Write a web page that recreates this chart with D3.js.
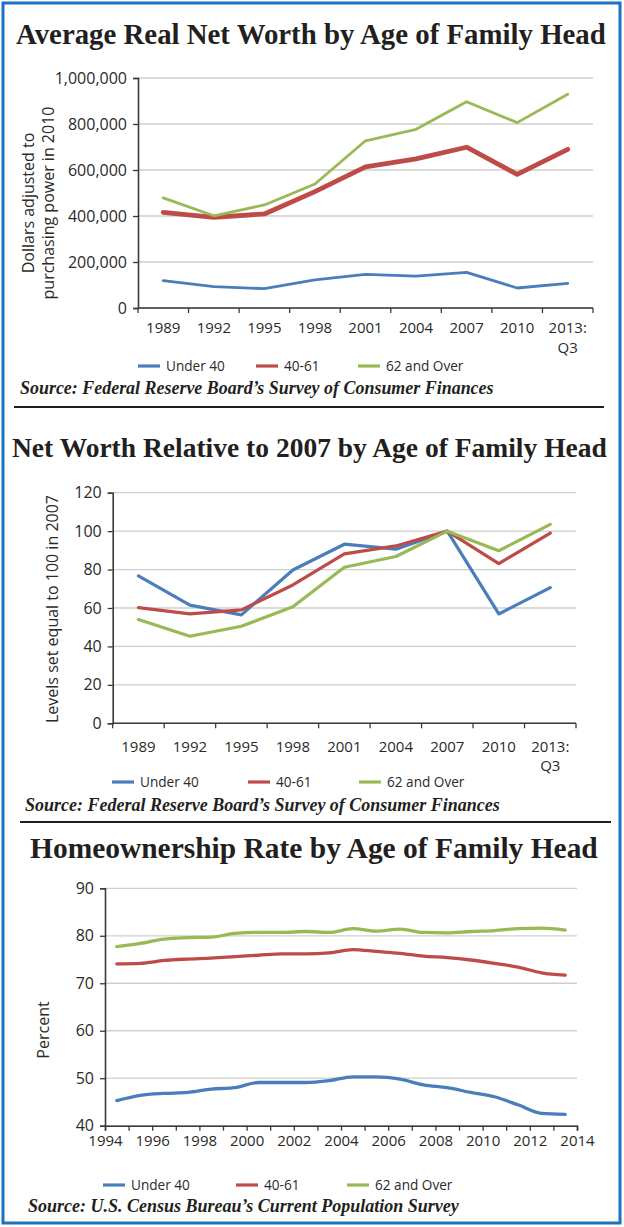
<!DOCTYPE html>
<html><head><meta charset="utf-8">
<script src="https://cdn.jsdelivr.net/npm/d3@7"></script>
<style>
body{margin:0;background:#fff;}
svg{display:block;}
</style></head><body>
<svg id="c" width="624" height="1227"></svg>
<script>
// ---------- DATA ----------
const seriesNames = ["Under 40", "40-61", "62 and Over"];
const seriesColors = ["#4a7ebb", "#be4b48", "#98b954"];

// Chart 1: Average Real Net Worth (2010 dollars)
const nwCategories = ["1989", "1992", "1995", "1998", "2001", "2004", "2007", "2010", "2013:\nQ3"];
const nwUnder40 = [119000, 93000, 84000, 122000, 146000, 139000, 155000, 87000, 107000];
const nw40to61 = [416000, 394000, 409000, 506000, 614000, 648000, 699000, 581000, 690000];
const nw62over = [479000, 401000, 448000, 539000, 727000, 777000, 897000, 806000, 929000];
const nwTicks = [0, 200000, 400000, 600000, 800000, 1000000];

// Chart 2: Net Worth relative to 2007
const relCategories = ["1989", "1992", "1995", "1998", "2001", "2004", "2007", "2010", "2013:\nQ3"];
const relUnder40 = [76.7, 61.5, 56.4, 79.8, 93.2, 90.6, 100, 56.9, 70.6];
const rel40to61 = [60.2, 56.9, 59.0, 72.0, 88.2, 92.3, 100, 83.1, 99.0];
const rel62over = [54.0, 45.3, 50.5, 60.7, 81.2, 86.8, 100, 89.8, 103.5];
const relTicks = [0, 20, 40, 60, 80, 100, 120];

// Chart 3: Homeownership rate (annual, plotted mid-year)
const hoYears = [1994, 1995, 1996, 1997, 1998, 1999, 2000, 2001, 2002, 2003, 2004, 2005, 2006, 2007, 2008, 2009, 2010, 2011, 2012, 2013];
const hoUnder40 = [45.3, 46.4, 46.8, 47.0, 47.7, 48.0, 49.1, 49.1, 49.1, 49.5, 50.3, 50.3, 49.8, 48.6, 48.0, 47.0, 46.1, 44.4, 42.6, 42.4];
const ho40to61 = [74.1, 74.2, 74.8, 75.1, 75.3, 75.6, 75.9, 76.2, 76.2, 76.4, 77.1, 76.7, 76.3, 75.7, 75.4, 74.9, 74.2, 73.4, 72.2, 71.7];
const ho62over = [77.7, 78.4, 79.3, 79.6, 79.7, 80.5, 80.7, 80.7, 80.9, 80.7, 81.5, 81.0, 81.4, 80.7, 80.6, 80.9, 81.1, 81.5, 81.6, 81.2];
const hoTicks = [40, 50, 60, 70, 80, 90];
const hoAxisYears = [1994, 1995, 1996, 1997, 1998, 1999, 2000, 2001, 2002, 2003, 2004, 2005, 2006, 2007, 2008, 2009, 2010, 2011, 2012, 2013, 2014];

// ---------- DRAW ----------
const svg = d3.select("#c");
const SANS = "'Open Sans', 'Noto Sans', sans-serif";
const SERIF = "'Liberation Serif', 'DejaVu Serif', serif";
const TXT = "#2a2a2a";

svg.append("rect").attr("x", 3).attr("y", 3).attr("width", 617).attr("height", 1220)
  .attr("fill", "none").attr("stroke", "#1a72c2").attr("stroke-width", 3);

function fitText(sel, width) {
  const w = sel.node().getComputedTextLength();
  const fs = parseFloat(sel.attr("font-size"));
  sel.attr("font-size", fs * width / w);
}

function title(text, x, w, y) {
  const t = svg.append("text").attr("x", x).attr("y", y).attr("font-family", SERIF)
    .attr("font-weight", "bold").attr("font-size", 26).attr("fill", "#231f20").text(text);
  fitText(t, w);
}
function source(text, x, w, y) {
  const t = svg.append("text").attr("x", x).attr("y", y).attr("font-family", SERIF)
    .attr("font-weight", "bold").attr("font-style", "italic").attr("font-size", 15)
    .attr("fill", "#231f20").text(text);
  fitText(t, w);
}
function legend(xs, y) {
  seriesNames.forEach((n, i) => {
    svg.append("line").attr("x1", xs[i]).attr("x2", xs[i] + 22).attr("y1", y).attr("y2", y)
      .attr("stroke", seriesColors[i]).attr("stroke-width", 3.2);
    svg.append("text").attr("x", xs[i] + 28).attr("y", y).attr("dy", "0.35em")
      .attr("font-family", SANS).attr("font-size", 13.6).attr("fill", TXT).text(n);
  });
}
function yAxis(y, left, right, ticks, fmt, fs) {
  const g = svg.append("g");
  ticks.forEach(t => {
    g.append("line").attr("x1", left).attr("x2", right).attr("y1", y(t)).attr("y2", y(t))
      .attr("stroke", "#cfcfcf").attr("stroke-width", 1.3);
  });
  const ax = svg.append("g").attr("transform", `translate(${left},0)`)
    .call(d3.axisLeft(y).tickValues(ticks).tickSize(5).tickPadding(6).tickFormat(fmt));
  ax.select(".domain").attr("stroke", "#3a3a3a").attr("stroke-width", 1.6);
  ax.selectAll(".tick line").attr("stroke", "#3a3a3a").attr("stroke-width", 1.3);
  ax.selectAll("text").attr("font-family", SANS).attr("font-size", fs).attr("fill", TXT);
}
function bandXAxis(x, yBase, labelOffset, fs) {
  const cats = x.domain();
  const g = svg.append("g");
  g.append("line").attr("x1", x.range()[0]).attr("x2", x.range()[1]).attr("y1", yBase).attr("y2", yBase)
    .attr("stroke", "#3a3a3a").attr("stroke-width", 1.6);
  const bounds = cats.map(c => x(c)).concat([x.range()[1]]);
  bounds.forEach(b => g.append("line").attr("x1", b).attr("x2", b).attr("y1", yBase).attr("y2", yBase + 5)
    .attr("stroke", "#3a3a3a").attr("stroke-width", 1.3));
  cats.forEach(c => {
    const t = g.append("text").attr("x", x(c) + x.bandwidth() / 2).attr("y", yBase + labelOffset)
      .attr("text-anchor", "middle").attr("font-family", SANS).attr("font-size", fs).attr("fill", TXT);
    c.split("\n").forEach((s, i) => t.append("tspan").attr("x", x(c) + x.bandwidth() / 2)
      .attr("dy", i === 0 ? "0.35em" : "1.3em").text(s));
  });
}
function yTitle(lines, cx, cy, fs, gap) {
  lines.forEach((l, i) => {
    svg.append("text").attr("transform", `translate(${cx + i * gap},${cy}) rotate(-90)`)
      .attr("text-anchor", "middle").attr("dy", "0.35em").attr("font-family", SANS)
      .attr("font-size", fs).attr("fill", TXT).text(l);
  });
}
function drawLines(xf, y, seriesList, widths, curve) {
  seriesList.forEach((vals, i) => {
    const line = d3.line().x((d, j) => xf(j)).y(d => y(d)).curve(curve || d3.curveLinear);
    svg.append("path").datum(vals).attr("d", line).attr("fill", "none")
      .attr("stroke", seriesColors[i]).attr("stroke-width", widths[i])
      .attr("stroke-linejoin", "round").attr("stroke-linecap", "round");
  });
}

// ===== Chart 1 =====
title("Average Real Net Worth by Age of Family Head", 16, 590, 44);
{
  const x = d3.scaleBand().domain(nwCategories).range([138, 593]);
  const y = d3.scaleLinear().domain([0, 1000000]).range([308, 78]);
  yAxis(y, 138, 593, nwTicks, d3.format(","), 16);
  bandXAxis(x, 308, 20, 15);
  yTitle(["Dollars adjusted to", "purchasing power in 2010"], 28, 203, 16, 20);
  drawLines(j => x(nwCategories[j]) + x.bandwidth() / 2, y, [nwUnder40, nw40to61, nw62over], [2.8, 4.8, 2.8]);
}
legend([138, 256, 358], 366);
source("Source: Federal Reserve Board\u2019s Survey of Consumer Finances", 20, 474, 394);
svg.append("line").attr("x1", 14).attr("x2", 604).attr("y1", 407).attr("y2", 407).attr("stroke", "#1e1e1e").attr("stroke-width", 2);

// ===== Chart 2 =====
title("Net Worth Relative to 2007 by Age of Family Head", 12, 595, 457);
{
  const x = d3.scaleBand().domain(relCategories).range([112.7, 576]);
  const y = d3.scaleLinear().domain([0, 120]).range([723.3, 492.7]);
  yAxis(y, 112.7, 576, relTicks, d3.format("d"), 16);
  bandXAxis(x, 723.3, 23, 15);
  yTitle(["Levels set equal to 100 in 2007"], 52, 609, 16, 0);
  drawLines(j => x(relCategories[j]) + x.bandwidth() / 2, y, [relUnder40, rel40to61, rel62over], [3.2, 3.2, 3.2]);
}
legend([112, 248, 359], 782);
source("Source: Federal Reserve Board\u2019s Survey of Consumer Finances", 25, 475, 811);
svg.append("line").attr("x1", 20).attr("x2", 611).attr("y1", 822).attr("y2", 822).attr("stroke", "#1e1e1e").attr("stroke-width", 2);

// ===== Chart 3 =====
title("Homeownership Rate by Age of Family Head", 30, 568, 858);
{
  const x = d3.scaleLinear().domain([1994, 2014]).range([105, 577]);
  const y = d3.scaleLinear().domain([40, 90]).range([1125.7, 888.3]);
  yAxis(y, 105, 577, hoTicks, d3.format("d"), 16);
  const ax = svg.append("g").attr("transform", "translate(0,1125.7)")
    .call(d3.axisBottom(x).tickValues(hoAxisYears).tickSize(5).tickPadding(5)
      .tickFormat(d => (d % 2 === 0 ? String(d) : "")));
  ax.select(".domain").attr("stroke", "#3a3a3a").attr("stroke-width", 1.6);
  ax.selectAll(".tick line").attr("stroke", "#3a3a3a").attr("stroke-width", 1.3);
  ax.selectAll("text").attr("font-family", SANS).attr("font-size", 15).attr("fill", TXT);
  yTitle(["Percent"], 43, 1030, 16, 0);
  drawLines(j => x(hoYears[j] + 0.5), y, [hoUnder40, ho40to61, ho62over], [3.3, 3.3, 3.3], d3.curveMonotoneX);
}
legend([103, 236, 347], 1185);
source("Source: U.S. Census Bureau\u2019s Current Population Survey", 28, 431, 1212);
</script>
</body></html>
